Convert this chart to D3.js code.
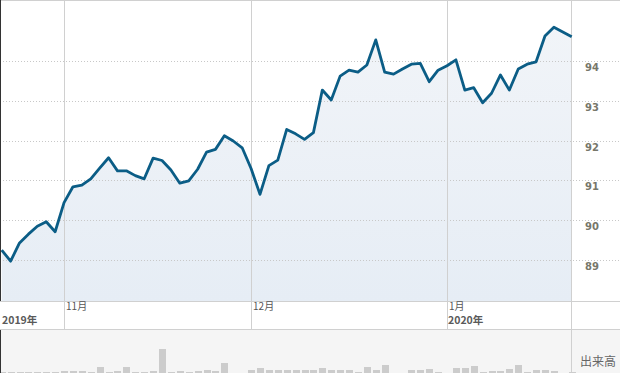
<!DOCTYPE html>
<html>
<head>
<meta charset="utf-8">
<script src="https://cdn.jsdelivr.net/npm/d3@7"></script>
<style>
  body { margin: 0; background: #fff; }
  svg { display: block; }
</style>
</head>
<body>
<div id="chart"></div>
<script>
// price per trading day (index 0 = first day shown)
const prices = [
  89.25, 88.97, 89.43, 89.65, 89.85, 89.96, 89.71, 90.44, 90.84, 90.88,
  91.04, 91.31, 91.57, 91.24, 91.24, 91.12, 91.04, 91.56, 91.50, 91.26,
  90.93, 90.99, 91.28, 91.71, 91.78, 92.12, 91.99, 91.82, 91.30, 90.65,
  91.37, 91.51, 92.28, 92.17, 92.03, 92.20, 93.27, 93.02, 93.62, 93.77,
  93.72, 93.90, 94.53, 93.72, 93.67, 93.80, 93.92, 93.94, 93.48, 93.77,
  93.88, 94.03, 93.27, 93.33, 92.95, 93.19, 93.65, 93.27, 93.80, 93.92,
  93.98, 94.63, 94.85, 94.73, 94.61
];

// 出来高
const volumes = [
  10, 10, 10, 10, 10, 10, 10, 20, 20, 20,
  10, 60, 10, 20, 60, 10, 10, 20, 240, 10,
  20, 10, 20, 30, 20, 100, 0, 0, 30, 50,
  30, 30, 30, 30, 30, 30, 50, 30, 30, 30,
  10, 60, 30, 80, 0, 0, 30, 30, 40, 10,
  0, 50, 50, 70, 10, 20, 20, 40, 80, 10,
  30, 30, 20, 0, 10
];

const monthIdx = [7, 28, 50];
const monthLabels = ["11月", "12月", "1月"];
const yearIdx = [0, 50];
const yearLabels = ["2019年", "2020年"];
const yTicks = [89, 90, 91, 92, 93, 94];

const W = 620, H = 373;
const plotRight = 571.5, plotBottom = 301, volTop = 329;

const svg = d3.select("#chart").append("svg")
  .attr("width", W).attr("height", H);

const x = d3.scaleLinear().domain([0, prices.length - 1]).range([1.7, 571.7]);
const y = d3.scaleLinear().domain([89, 94]).range([260, 61]);
const v = d3.scaleLinear().domain([0, 100]).range([0, 10]);

// volume panel background
svg.append("rect")
  .attr("x", 0).attr("y", volTop).attr("width", W).attr("height", H - volTop)
  .attr("fill", "#f5f5f5");

// area gradient
const grad = svg.append("defs").append("linearGradient")
  .attr("id", "areaGrad").attr("x1", 0).attr("y1", 0).attr("x2", 0).attr("y2", 1);
grad.append("stop").attr("offset", "0%").attr("stop-color", "#f1f4f8");
grad.append("stop").attr("offset", "100%").attr("stop-color", "#e6edf5");

const area = d3.area()
  .x((d, i) => x(i))
  .y0(plotBottom)
  .y1(d => y(d));

svg.append("path")
  .datum(prices)
  .attr("d", area)
  .attr("fill", "url(#areaGrad)");

// horizontal dotted grid
svg.append("g").selectAll("line")
  .data(yTicks)
  .join("line")
  .attr("x1", 0).attr("x2", W)
  .attr("y1", d => Math.round(y(d)) + 0.5).attr("y2", d => Math.round(y(d)) + 0.5)
  .attr("stroke", "#c8c8c8")
  .attr("stroke-dasharray", "1,2");

// vertical month lines
svg.append("g").selectAll("line")
  .data(monthIdx)
  .join("line")
  .attr("x1", d => Math.round(x(d)) + 0.5).attr("x2", d => Math.round(x(d)) + 0.5)
  .attr("y1", 0).attr("y2", volTop)
  .attr("stroke", "#d0d0d0");

// borders
svg.append("line").attr("x1", 0).attr("x2", W).attr("y1", 0.5).attr("y2", 0.5).attr("stroke", "#d0d0d0");
svg.append("line").attr("x1", 0).attr("x2", W).attr("y1", plotBottom + 0.5).attr("y2", plotBottom + 0.5).attr("stroke", "#d0d0d0");
svg.append("line").attr("x1", 0).attr("x2", W).attr("y1", volTop + 0.5).attr("y2", volTop + 0.5).attr("stroke", "#d0d0d0");
svg.append("line").attr("x1", plotRight).attr("x2", plotRight).attr("y1", 0).attr("y2", H).attr("stroke", "#d0d0d0");

// volume bars
svg.append("g").selectAll("rect")
  .data(volumes)
  .join("rect")
  .attr("x", (d, i) => Math.round(x(i)) - 3)
  .attr("width", 7)
  .attr("y", d => H - v(d))
  .attr("height", d => v(d))
  .attr("fill", "#cccccc");

// price line
const line = d3.line()
  .x((d, i) => x(i))
  .y(d => y(d));

svg.append("path")
  .datum(prices)
  .attr("d", line)
  .attr("fill", "none")
  .attr("stroke", "#0b5d86")
  .attr("stroke-width", 2.8)
  .attr("stroke-linejoin", "round");

// left edge
svg.append("line").attr("x1", 0.5).attr("x2", 0.5).attr("y1", 0).attr("y2", plotBottom).attr("stroke", "#333");
svg.append("line").attr("x1", 0.5).attr("x2", 0.5).attr("y1", volTop + 1).attr("y2", H).attr("stroke", "#333");

// y labels
svg.append("g").selectAll("text")
  .data(yTicks)
  .join("text")
  .attr("x", 585)
  .attr("y", d => y(d) + 10)
  .attr("font-family", "Verdana, 'DejaVu Sans', sans-serif")
  .attr("font-size", 10)
  .attr("font-weight", "bold")
  .attr("fill", "#77776a")
  .text(d => d);

// month labels
svg.append("g").selectAll("text")
  .data(monthIdx)
  .join("text")
  .attr("x", d => x(d) + 2)
  .attr("y", 310)
  .attr("font-family", "'Noto Sans CJK JP', sans-serif")
  .attr("font-size", 10)
  .attr("fill", "#555")
  .text((d, i) => monthLabels[i]);

// year labels
svg.append("g").selectAll("text")
  .data(yearIdx)
  .join("text")
  .attr("x", d => d === 0 ? 2 : x(d) + 1)
  .attr("y", 323.5)
  .attr("font-family", "'Noto Sans CJK JP', sans-serif")
  .attr("font-size", 10.5)
  .attr("font-weight", "bold")
  .attr("fill", "#5a5a5a")
  .text((d, i) => yearLabels[i]);

svg.append("text")
  .attr("x", 580).attr("y", 366)
  .attr("font-family", "'Noto Sans CJK JP', sans-serif")
  .attr("font-size", 12)
  .attr("fill", "#666")
  .text("出来高");
</script>
</body>
</html>
